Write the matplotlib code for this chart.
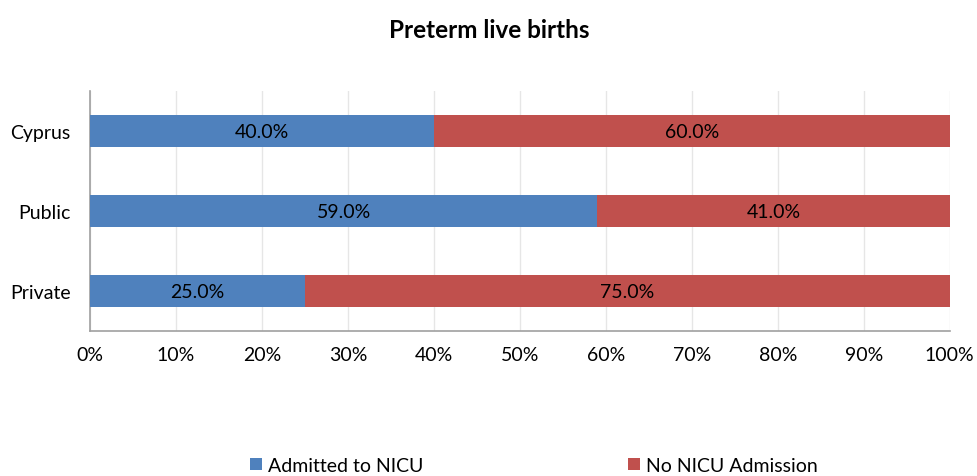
import matplotlib
matplotlib.use("Agg")
from matplotlib import pyplot as plt
from matplotlib.ticker import PercentFormatter

plt.rcParams['font.family'] = ['Lato', 'DejaVu Sans']

categories = ['Cyprus', 'Public', 'Private']
admitted = [40.0, 59.0, 25.0]
no_admission = [60.0, 41.0, 75.0]

fig = plt.figure(figsize=(9.78, 4.77), dpi=100)
ax = fig.add_axes([0.092, 0.304, 0.879, 0.503])

y = list(range(len(categories)))
b1 = ax.barh(y, admitted, height=0.4, color='#4F81BD', label='Admitted to NICU', zorder=3)
b2 = ax.barh(y, no_admission, left=admitted, height=0.4, color='#C0504D', label='No NICU Admission', zorder=3)

for bars, vals in ((b1, admitted), (b2, no_admission)):
    for bar, v in zip(bars, vals):
        ax.text(bar.get_x() + bar.get_width() / 2, bar.get_y() + bar.get_height() / 2,
                f'{v:.1f}%', ha='center', va='center', fontsize=14, color='black', zorder=4)

ax.set_xlim(0, 100)
ax.set_ylim(-0.5, 2.5)
ax.invert_yaxis()
ax.set_yticks(y)
ax.set_yticklabels(categories)
ax.set_xticks(range(0, 101, 10))
ax.xaxis.set_major_formatter(PercentFormatter(decimals=0))
ax.tick_params(axis='both', length=0, labelsize=14)
ax.tick_params(axis='y', pad=14)
ax.tick_params(axis='x', pad=11)
ax.grid(axis='x', color='#e6e6e6', linewidth=1, zorder=0)
for s in ('top', 'right'):
    ax.spines[s].set_visible(False)
for s in ('left', 'bottom'):
    ax.spines[s].set_color('#a0a0a0')
    ax.spines[s].set_linewidth(1.2)

fig.suptitle('Preterm live births', y=0.96, fontsize=17.5, fontweight='bold')
fig.legend(handles=[b1, b2], loc='center', bbox_to_anchor=(0.546, 0.022), ncol=2,
           frameon=False, fontsize=14, handlelength=0.6, handleheight=0.6,
           handletextpad=0.35, columnspacing=10.5)

fig.savefig('out.png', dpi=100)
